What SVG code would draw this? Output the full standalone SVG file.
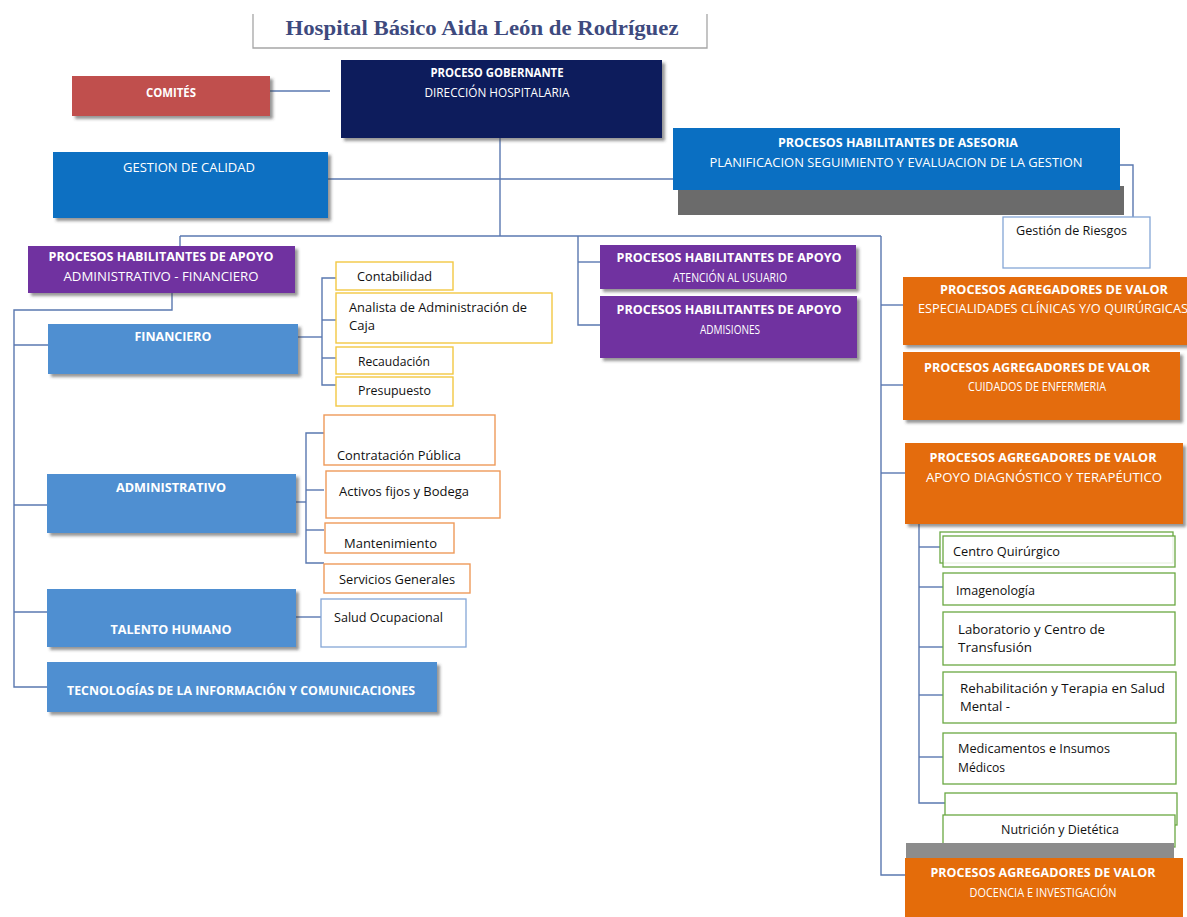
<svg xmlns="http://www.w3.org/2000/svg" width="1187" height="917" viewBox="0 0 1187 917">
<defs>
<filter id="sh" x="-5%" y="-5%" width="115%" height="130%">
<feDropShadow dx="3" dy="3" stdDeviation="1.5" flood-color="#404040" flood-opacity="0.55"/>
</filter>
<style>
.h{font-family:"Open Sans","Noto Sans",sans-serif;font-weight:bold;font-size:12px;fill:#ffffff;text-anchor:middle}
.r{font-family:"Open Sans","Noto Sans",sans-serif;font-weight:normal;font-size:12.5px;fill:#ffffff;text-anchor:middle}
.t{font-family:"Open Sans","Noto Sans",sans-serif;font-size:12.5px;fill:#111111}
.c{fill:none;stroke:#5a78b0;stroke-width:1.4}
.navy{fill:#0b1f5b}
.red{fill:#c0504d}
.blue{fill:#0a6fc2}
.purple{fill:#7030a0}
.orange{fill:#e46c0a}
.lblue{fill:#4f8fd1}
.yel{fill:#ffffff;stroke:#f2c843;stroke-width:1.4}
.org{fill:#ffffff;stroke:#ee9a5a;stroke-width:1.4}
.grn{fill:#ffffff;stroke:#6aa842;stroke-width:1.3}
.bl{fill:#ffffff;stroke:#84a6d6;stroke-width:1.3}
</style>
</defs>
<rect width="1187" height="917" fill="#ffffff"/>

<g id="title">
<path d="M253,14 V48 H707 V14" fill="none" stroke="#a6a6a6" stroke-width="1.3"/>
<text x="482" y="35" font-family="Liberation Serif,serif" font-weight="bold" font-size="20" fill="#3e4a7e" text-anchor="middle" textLength="393" lengthAdjust="spacingAndGlyphs">Hospital Básico Aida León de Rodríguez</text>
</g>

<g id="connectors">
<path class="c" d="M270,91 H330"/>
<path class="c" d="M500,138 V236"/>
<path class="c" d="M328,179 H673"/>
<path class="c" d="M1120,165 H1133 V217"/>
<path class="c" d="M180,236 H881"/>
<path class="c" d="M180,236 V247"/>
<path class="c" d="M172,293 V310 H14 V687 H48"/>
<path class="c" d="M14,345 H48"/>
<path class="c" d="M14,505 H48"/>
<path class="c" d="M14,612 H48"/>
<path class="c" d="M298,337 H322"/>
<path class="c" d="M336,278 H322 V385 H336"/>
<path class="c" d="M322,320 H336"/>
<path class="c" d="M322,358 H336"/>
<path class="c" d="M296,502 H306"/>
<path class="c" d="M324,433 H306 V563 H324"/>
<path class="c" d="M306,490 H324"/>
<path class="c" d="M306,530 H324"/>
<path class="c" d="M296,617 H321"/>
<path class="c" d="M578,236 V325 H600"/>
<path class="c" d="M578,262 H600"/>
<path class="c" d="M881,236 V875 H905"/>
<path class="c" d="M881,305 H903"/>
<path class="c" d="M881,385 H903"/>
<path class="c" d="M881,473 H905"/>
<path class="c" d="M919,524 V803 H945"/>
<path class="c" d="M919,547 H940"/>
<path class="c" d="M919,587 H943"/>
<path class="c" d="M919,647 H943"/>
<path class="c" d="M919,695 H943"/>
<path class="c" d="M919,757 H943"/>
</g>

<g id="comites">
<rect class="red" x="72" y="76" width="198" height="40" filter="url(#sh)"/>
<text class="h" x="171" y="97" textLength="50" lengthAdjust="spacingAndGlyphs">COMITÉS</text>
</g>

<g id="direccion">
<rect class="navy" x="341" y="60" width="321" height="78" filter="url(#sh)"/>
<text class="h" x="497" y="77" textLength="133" lengthAdjust="spacingAndGlyphs">PROCESO GOBERNANTE</text>
<text class="r" x="497" y="97" textLength="145" lengthAdjust="spacingAndGlyphs">DIRECCIÓN HOSPITALARIA</text>
</g>

<g id="gestion-calidad">
<rect class="blue" x="53" y="152" width="275" height="66" filter="url(#sh)"/>
<text class="r" x="189" y="172" textLength="132" lengthAdjust="spacingAndGlyphs">GESTION DE CALIDAD</text>
</g>

<g id="asesoria">
<rect x="678" y="186" width="446" height="29" fill="#6b6b6b"/>
<rect class="blue" x="673" y="128" width="447" height="62"/>
<text class="h" x="898" y="147" textLength="240" lengthAdjust="spacingAndGlyphs">PROCESOS HABILITANTES DE ASESORIA</text>
<text class="r" x="896" y="167" textLength="373" lengthAdjust="spacingAndGlyphs">PLANIFICACION SEGUIMIENTO Y EVALUACION DE LA GESTION</text>
</g>

<g id="gestion-riesgos">
<rect class="bl" x="1003" y="217" width="147" height="51"/>
<text class="t" x="1016" y="235" textLength="111" lengthAdjust="spacingAndGlyphs">Gestión de Riesgos</text>
</g>

<g id="admin-fin">
<rect class="purple" x="28" y="246" width="267" height="47" filter="url(#sh)"/>
<text class="h" x="161" y="261" textLength="225" lengthAdjust="spacingAndGlyphs">PROCESOS HABILITANTES DE APOYO</text>
<text class="r" x="161" y="281" textLength="195" lengthAdjust="spacingAndGlyphs">ADMINISTRATIVO - FINANCIERO</text>
</g>

<g id="financiero">
<rect class="lblue" x="48" y="324" width="250" height="50" filter="url(#sh)"/>
<text class="h" x="173" y="341" textLength="77" lengthAdjust="spacingAndGlyphs">FINANCIERO</text>
</g>

<g id="contabilidad">
<rect class="yel" x="336" y="262" width="117" height="28"/>
<text class="t" x="357" y="281" textLength="75" lengthAdjust="spacingAndGlyphs">Contabilidad</text>
</g>
<g id="analista">
<rect class="yel" x="336" y="293" width="216" height="50"/>
<text class="t" x="349" y="312" textLength="178" lengthAdjust="spacingAndGlyphs">Analista de Administración de</text>
<text class="t" x="349" y="330" textLength="26" lengthAdjust="spacingAndGlyphs">Caja</text>
</g>
<g id="recaudacion">
<rect class="yel" x="336" y="347" width="117" height="27"/>
<text class="t" x="358" y="366" textLength="72" lengthAdjust="spacingAndGlyphs">Recaudación</text>
</g>
<g id="presupuesto">
<rect class="yel" x="336" y="377" width="117" height="29"/>
<text class="t" x="358" y="395" textLength="73" lengthAdjust="spacingAndGlyphs">Presupuesto</text>
</g>

<g id="administrativo">
<rect class="lblue" x="47" y="474" width="249" height="59" filter="url(#sh)"/>
<text class="h" x="171" y="492" textLength="110" lengthAdjust="spacingAndGlyphs">ADMINISTRATIVO</text>
</g>

<g id="contratacion">
<rect class="org" x="324" y="415" width="171" height="50"/>
<text class="t" x="337" y="460" textLength="124" lengthAdjust="spacingAndGlyphs">Contratación Pública</text>
</g>
<g id="activos">
<rect class="org" x="326" y="471" width="174" height="47"/>
<text class="t" x="339" y="496" textLength="130" lengthAdjust="spacingAndGlyphs">Activos fijos y Bodega</text>
</g>
<g id="mantenimiento">
<rect class="org" x="325" y="523" width="129" height="30"/>
<text class="t" x="344" y="548" textLength="93" lengthAdjust="spacingAndGlyphs">Mantenimiento</text>
</g>
<g id="servicios">
<rect class="org" x="324" y="564" width="146" height="29"/>
<text class="t" x="339" y="584" textLength="116" lengthAdjust="spacingAndGlyphs">Servicios Generales</text>
</g>

<g id="talento">
<rect class="lblue" x="47" y="589" width="249" height="58" filter="url(#sh)"/>
<text class="h" x="171" y="634" textLength="121" lengthAdjust="spacingAndGlyphs">TALENTO HUMANO</text>
</g>
<g id="salud-ocupacional">
<rect class="bl" x="321" y="599" width="145" height="48"/>
<text class="t" x="334" y="622" textLength="109" lengthAdjust="spacingAndGlyphs">Salud Ocupacional</text>
</g>

<g id="tic">
<rect class="lblue" x="47" y="662" width="390" height="50" filter="url(#sh)"/>
<text class="h" x="241" y="695" textLength="348" lengthAdjust="spacingAndGlyphs">TECNOLOGÍAS DE LA INFORMACIÓN Y COMUNICACIONES</text>
</g>

<g id="atencion">
<rect class="purple" x="600" y="245" width="256" height="44" filter="url(#sh)"/>
<text class="h" x="729" y="262" textLength="225" lengthAdjust="spacingAndGlyphs">PROCESOS HABILITANTES DE APOYO</text>
<text class="r" x="730" y="282" textLength="114" lengthAdjust="spacingAndGlyphs">ATENCIÓN AL USUARIO</text>
</g>
<g id="admisiones">
<rect class="purple" x="600" y="296" width="257" height="62" filter="url(#sh)"/>
<text class="h" x="729" y="314" textLength="225" lengthAdjust="spacingAndGlyphs">PROCESOS HABILITANTES DE APOYO</text>
<text class="r" x="730" y="334" textLength="60" lengthAdjust="spacingAndGlyphs">ADMISIONES</text>
</g>

<g id="especialidades">
<rect class="orange" x="903" y="277" width="290" height="68" filter="url(#sh)"/>
<text class="h" x="1054" y="294" textLength="228" lengthAdjust="spacingAndGlyphs">PROCESOS AGREGADORES DE VALOR</text>
<text class="r" x="1053" y="313" textLength="270" lengthAdjust="spacingAndGlyphs">ESPECIALIDADES CLÍNICAS Y/O QUIRÚRGICAS</text>
</g>
<g id="cuidados">
<rect class="orange" x="903" y="352" width="277" height="68" filter="url(#sh)"/>
<text class="h" x="1037" y="372" textLength="226" lengthAdjust="spacingAndGlyphs">PROCESOS AGREGADORES DE VALOR</text>
<text class="r" x="1037" y="391" textLength="138" lengthAdjust="spacingAndGlyphs">CUIDADOS DE ENFERMERIA</text>
</g>
<g id="apoyo-diagnostico">
<rect class="orange" x="905" y="443" width="278" height="81" filter="url(#sh)"/>
<text class="h" x="1043" y="462" textLength="227" lengthAdjust="spacingAndGlyphs">PROCESOS AGREGADORES DE VALOR</text>
<text class="r" x="1044" y="482" textLength="236" lengthAdjust="spacingAndGlyphs">APOYO DIAGNÓSTICO Y TERAPÉUTICO</text>
</g>

<g id="centro-quirurgico">
<rect class="grn" x="940" y="532" width="233" height="31"/>
<rect class="grn" x="943" y="536" width="232" height="31" fill-opacity="0.85"/>
<text class="t" x="953" y="556" textLength="107" lengthAdjust="spacingAndGlyphs">Centro Quirúrgico</text>
</g>
<g id="imagenologia">
<rect class="grn" x="943" y="573" width="232" height="32"/>
<text class="t" x="956" y="595" textLength="79" lengthAdjust="spacingAndGlyphs">Imagenología</text>
</g>
<g id="laboratorio">
<rect class="grn" x="943" y="612" width="232" height="53"/>
<text class="t" x="958" y="634" textLength="147" lengthAdjust="spacingAndGlyphs">Laboratorio y Centro de</text>
<text class="t" x="958" y="652" textLength="74" lengthAdjust="spacingAndGlyphs">Transfusión</text>
</g>
<g id="rehabilitacion">
<rect class="grn" x="943" y="672" width="233" height="51"/>
<text class="t" x="960" y="693" textLength="205" lengthAdjust="spacingAndGlyphs">Rehabilitación y Terapia en Salud</text>
<text class="t" x="960" y="711" textLength="50" lengthAdjust="spacingAndGlyphs">Mental -</text>
</g>
<g id="medicamentos">
<rect class="grn" x="943" y="733" width="233" height="51"/>
<text class="t" x="958" y="753" textLength="152" lengthAdjust="spacingAndGlyphs">Medicamentos e Insumos</text>
<text class="t" x="958" y="772" textLength="47" lengthAdjust="spacingAndGlyphs">Médicos</text>
</g>
<g id="vacio">
<rect class="grn" x="945" y="793" width="232" height="32"/>
</g>
<g id="nutricion">
<rect class="grn" x="943" y="815" width="232" height="32" fill="none"/>
<text class="t" x="1060" y="834" text-anchor="middle" textLength="118" lengthAdjust="spacingAndGlyphs">Nutrición y Dietética</text>
</g>

<g id="docencia">
<rect x="906" y="843" width="268" height="17" fill="#8c8c8c"/>
<rect class="orange" x="905" y="858" width="278" height="59"/>
<text class="h" x="1043" y="877" textLength="225" lengthAdjust="spacingAndGlyphs">PROCESOS AGREGADORES DE VALOR</text>
<text class="r" x="1043" y="897" textLength="147" lengthAdjust="spacingAndGlyphs">DOCENCIA E INVESTIGACIÓN</text>
</g>
</svg>
